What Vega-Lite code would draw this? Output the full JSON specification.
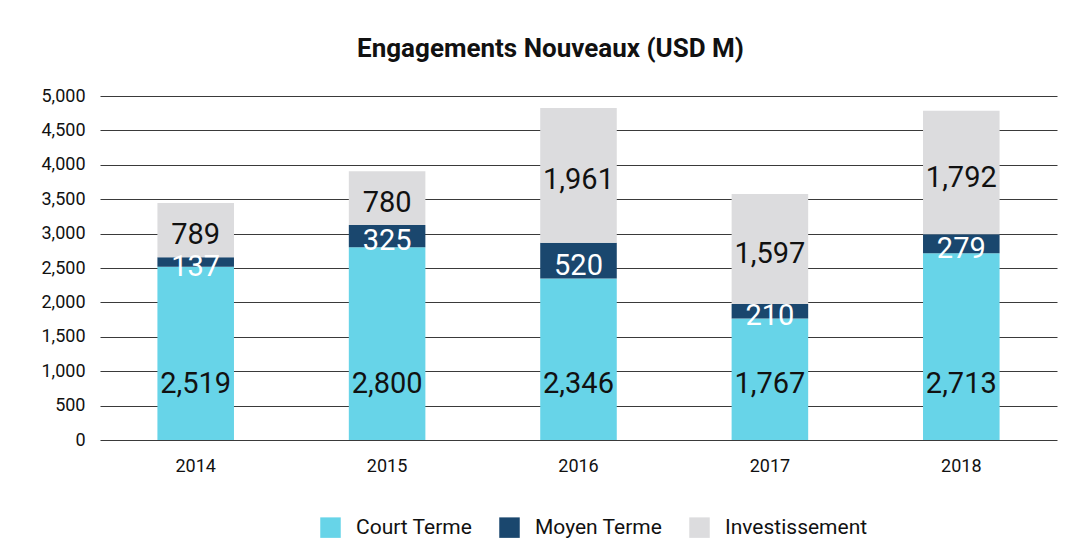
{
  "$schema": "https://vega.github.io/schema/vega-lite/v6.json",
  "width": 957,
  "height": 344,
  "autosize": {"type": "none"},
  "padding": {"left": 100, "top": 96, "right": 28, "bottom": 118},
  "background": "white",
  "title": {"text": "Engagements Nouveaux (USD M)", "font": "Roboto", "fontSize": 26, "fontWeight": "bold", "color": "#111111", "offset": 25, "dx": -28},
  "config": {
    "font": "Roboto",
    "view": {"stroke": null}
  },
  "data": {
    "values": [
      {"annee": "2014", "type": "Court Terme", "valeur": 2519, "ordre": 1},
      {"annee": "2014", "type": "Moyen Terme", "valeur": 137, "ordre": 2},
      {"annee": "2014", "type": "Investissement", "valeur": 789, "ordre": 3},
      {"annee": "2015", "type": "Court Terme", "valeur": 2800, "ordre": 1},
      {"annee": "2015", "type": "Moyen Terme", "valeur": 325, "ordre": 2},
      {"annee": "2015", "type": "Investissement", "valeur": 780, "ordre": 3},
      {"annee": "2016", "type": "Court Terme", "valeur": 2346, "ordre": 1},
      {"annee": "2016", "type": "Moyen Terme", "valeur": 520, "ordre": 2},
      {"annee": "2016", "type": "Investissement", "valeur": 1961, "ordre": 3},
      {"annee": "2017", "type": "Court Terme", "valeur": 1767, "ordre": 1},
      {"annee": "2017", "type": "Moyen Terme", "valeur": 210, "ordre": 2},
      {"annee": "2017", "type": "Investissement", "valeur": 1597, "ordre": 3},
      {"annee": "2018", "type": "Court Terme", "valeur": 2713, "ordre": 1},
      {"annee": "2018", "type": "Moyen Terme", "valeur": 279, "ordre": 2},
      {"annee": "2018", "type": "Investissement", "valeur": 1792, "ordre": 3}
    ]
  },
  "encoding": {
    "x": {
      "field": "annee", "type": "nominal",
      "scale": {"paddingInner": 0.6, "paddingOuter": 0.3},
      "axis": {"title": null, "labelAngle": 0, "domain": false, "ticks": false, "labelPadding": 17, "labelFontSize": 18, "labelColor": "#111111", "labelFont": "Roboto"}
    }
  },
  "layer": [
    {
      "mark": {"type": "bar"},
      "encoding": {
        "y": {
          "field": "valeur", "type": "quantitative", "aggregate": "sum", "stack": "zero",
          "scale": {"domain": [0, 5000]},
          "axis": {"title": null, "values": [0, 500, 1000, 1500, 2000, 2500, 3000, 3500, 4000, 4500, 5000], "format": ",.0f", "domain": false, "ticks": false, "labelPadding": 15, "labelFontSize": 18, "labelColor": "#111111", "gridColor": "#3a3a3a", "gridWidth": 1.2, "gridOpacity": 1}
        },
        "color": {
          "field": "type", "type": "nominal",
          "scale": {"domain": ["Court Terme", "Moyen Terme", "Investissement"], "range": ["#67d4e8", "#1a476e", "#dcdcde"]},
          "legend": {"title": null, "orient": "none", "legendX": 220, "legendY": 421, "direction": "horizontal", "symbolType": "square", "symbolSize": 420, "symbolStrokeWidth": 0, "symbolOpacity": 1, "labelFontSize": 21, "labelColor": "#111111", "columnPadding": 26, "labelOffset": 15, "padding": 0}
        },
        "order": {"field": "ordre", "type": "quantitative"}
      }
    },
    {
      "transform": [
        {"stack": "valeur", "groupby": ["annee"], "sort": [{"field": "ordre", "order": "ascending"}], "as": ["bas", "haut"]},
        {"calculate": "(datum.bas + datum.haut) / 2", "as": "milieu"},
        {"filter": "datum.type !== 'Court Terme'"}
      ],
      "mark": {"type": "text", "fontSize": 29, "baseline": "middle", "dy": 5},
      "encoding": {
        "y": {"field": "milieu", "type": "quantitative",
          "axis": {"title": null, "values": [0, 500, 1000, 1500, 2000, 2500, 3000, 3500, 4000, 4500, 5000], "format": ",.0f", "domain": false, "ticks": false, "labelPadding": 15, "labelFontSize": 18, "labelColor": "#111111", "gridColor": "#3a3a3a", "gridWidth": 1.2, "gridOpacity": 1}},
        "text": {"field": "valeur", "type": "quantitative", "format": ",.0f"},
        "color": {"condition": {"test": "datum.type === 'Moyen Terme'", "value": "white"}, "value": "#111111"}
      }
    },
    {
      "transform": [
        {"filter": "datum.type === 'Court Terme'"}
      ],
      "mark": {"type": "text", "fontSize": 29, "baseline": "middle", "color": "#111111"},
      "encoding": {
        "y": {"datum": 814, "type": "quantitative",
          "axis": {"title": null, "values": [0, 500, 1000, 1500, 2000, 2500, 3000, 3500, 4000, 4500, 5000], "format": ",.0f", "domain": false, "ticks": false, "labelPadding": 15, "labelFontSize": 18, "labelColor": "#111111", "gridColor": "#3a3a3a", "gridWidth": 1.2, "gridOpacity": 1}},
        "text": {"field": "valeur", "type": "quantitative", "format": ",.0f"}
      }
    }
  ]
}
